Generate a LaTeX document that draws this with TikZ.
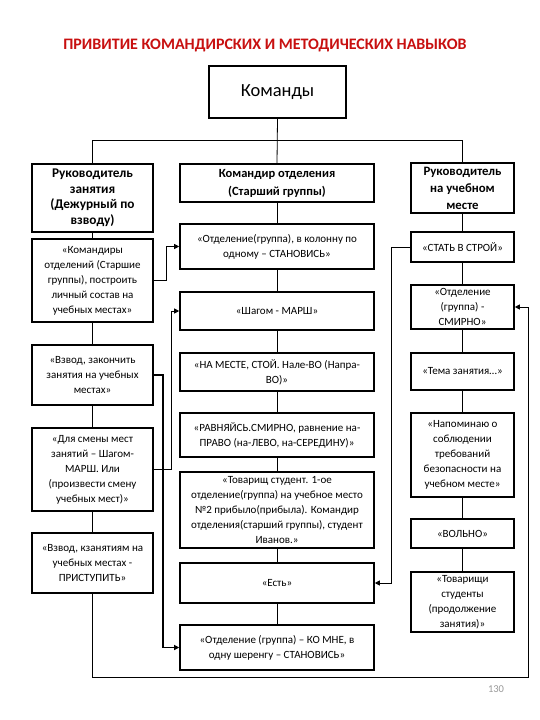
\documentclass[tikz,border=0pt]{standalone}
\usepackage{fontspec}
\setmainfont{Carlito}
\usetikzlibrary{arrows.meta}
\definecolor{titlered}{RGB}{200,16,16}
\begin{document}
\begin{tikzpicture}[x=1pt,y=-1pt,
  box/.style={draw=black,line width=1.6pt,rectangle,inner sep=0pt,align=center,
    font=\fontsize{11}{15}\selectfont},
  lcol/.style={box,minimum width=121pt},
  mcol/.style={box,minimum width=194pt},
  rcol/.style={box,minimum width=103pt},
  ln/.style={line width=0.8pt},
  arr/.style={line width=1pt,-{Triangle[length=5pt,width=5pt]}},
]
\useasboundingbox[fill=white] (0,0) rectangle (540,720);

\node[font=\bfseries\fontsize{16}{19}\selectfont,text=titlered] (title) at (265,45)
  {ПРИВИТИЕ КОМАНДИРСКИХ И МЕТОДИЧЕСКИХ НАВЫКОВ};

\node[box,minimum width=137pt,minimum height=52pt,font=\fontsize{18.5}{22}\selectfont] (K) at (277.5,92) {Команды};

\node[lcol,minimum height=68pt,font=\bfseries\fontsize{13.3}{15.5}\selectfont] (LH) at (92.5,198)
  {Руководитель\\занятия\\(Дежурный по\\взводу)};
\node[mcol,minimum height=38pt,font=\bfseries\fontsize{12.5}{18}\selectfont] (MH) at (277,183)
  {Командир отделения\\(Старший группы)};
\node[rcol,minimum height=50pt,font=\bfseries\fontsize{12.8}{17}\selectfont] (RH) at (462.5,188)
  {Руководитель\\на учебном\\месте};

% left column
\node[lcol,minimum height=83pt] (L1) at (92.5,280.5)
  {«Командиры\\отделений (Старшие\\группы), построить\\личный состав на\\учебных местах»};
\node[lcol,minimum height=60pt] (L2) at (92.5,375)
  {«Взвод, закончить\\занятия на учебных\\местах»};
\node[lcol,minimum height=83pt] (L3) at (92.5,469.5)
  {«Для смены мест\\занятий – Шагом-\\МАРШ. Или\\(произвести смену\\учебных мест)»};
\node[lcol,minimum height=60pt] (L4) at (92.5,563)
  {«Взвод, кзанятиям на\\учебных местах -\\ПРИСТУПИТЬ»};

% middle column
\node[mcol,minimum height=45pt] (M1) at (277,246.5)
  {«Отделение(группа), в колонну по\\одному – СТАНОВИСЬ»};
\node[mcol,minimum height=38pt] (M2) at (277,311) {«Шагом - МАРШ»};
\node[mcol,minimum height=38pt] (M3) at (277,372)
  {«НА МЕСТЕ, СТОЙ. Нале-ВО (Напра-\\ВО)»};
\node[mcol,minimum height=44pt] (M4) at (277,435)
  {«РАВНЯЙСЬ.СМИРНО, равнение на-\\ПРАВО (на-ЛЕВО, на-СЕРЕДИНУ)»};
\node[mcol,minimum height=76pt] (M5) at (277,510)
  {«Товарищ студент. 1-ое\\отделение(группа) на учебное место\\№2 прибыло(прибыла). Командир\\отделения(старший группы), студент\\Иванов.»};
\node[mcol,minimum height=40pt] (M6) at (277,583) {«Есть»};
\node[mcol,minimum height=45pt] (M7) at (277,647.5)
  {«Отделение (группа) – КО МНЕ, в\\одну шеренгу – СТАНОВИСЬ»};

% right column
\node[rcol,minimum height=30pt] (R1) at (462.5,247) {«СТАТЬ В СТРОЙ»};
\node[rcol,minimum height=44pt] (R2) at (462.5,307) {«Отделение\\(группа) -\\СМИРНО»};
\node[rcol,minimum height=37pt] (R3) at (462.5,371.5) {«Тема занятия…»};
\node[rcol,minimum height=84pt] (R4) at (462.5,455)
  {«Напоминаю о\\соблюдении\\требований\\безопасности на\\учебном месте»};
\node[rcol,minimum height=29pt] (R5) at (462.5,533.5) {«ВОЛЬНО»};
\node[rcol,minimum height=60pt] (R6) at (462.5,602)
  {«Товарищи\\студенты\\(продолжение\\занятия)»};

\node[font=\fontsize{10.5}{12}\selectfont,text=black!40] (pg) at (496,689) {130};

% tree
\coordinate (jn) at (277,140);
\draw[ln] (K.south) -- (MH.north);
\draw[ln] (LH.north) -- (LH.north |- jn) -- (RH.north |- jn) -- (RH.north);
\draw[ln] (LH) -- (L1) -- (L2) -- (L3) -- (L4);
\draw[ln] (MH) -- (M1) -- (M2) -- (M3) -- (M4) -- (M5) -- (M6) -- (M7);
\draw[ln] (RH) -- (R1) -- (R2) -- (R3) -- (R4) -- (R5) -- (R6);

% arrows
\draw[arr] (L1.east) -- ++(13,0) |- (M1.west);
\draw[arr] (L3.east) -- ++(18,0) |- (M2.west);
\draw[arr,line width=1.6pt] (L2.east) -- ++(9,0) |- (M7.west);
\draw[arr] (R1.west) -- ++(-19,0) |- (M6.east);
\coordinate (c1) at (92.5,677);
\coordinate (c2) at (528,677);
\draw[arr] (L4.south) -- (c1) -- (c2) |- (R2.east);
\end{tikzpicture}
\end{document}
